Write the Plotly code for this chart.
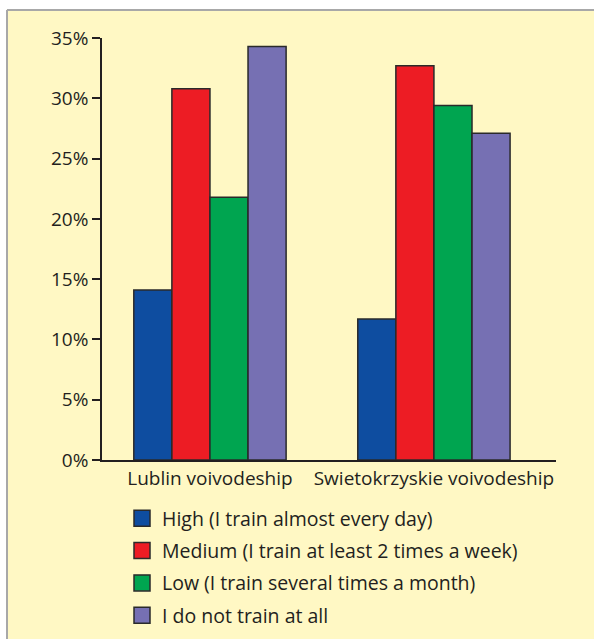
import plotly.graph_objects as go

categories = ["Lublin voivodeship", "Swietokrzyskie voivodeship"]
series_names = [
    "High (I train almost every day)",
    "Medium (I train at least 2 times a week)",
    "Low (I train several times a month)",
    "I do not train at all",
]
high = [14.1, 11.7]
medium = [30.8, 32.7]
low = [21.8, 29.4]
none_ = [34.3, 27.1]
y_ticks = [0, 5, 10, 15, 20, 25, 30, 35]
y_tick_labels = ["0%", "5%", "10%", "15%", "20%", "25%", "30%", "35%"]

colors = ["#0E4DA0", "#ED1C24", "#00A550", "#7670B3"]
values = [high, medium, low, none_]

W, H = 594, 639
ML, MR, MT, MB = 102, 38, 38, 179
BG = "#FFF8C4"
TXT = "#231F20"
OUTLINE = "#2a2a2a"
FONT = "Open Sans, Liberation Sans, Arial, sans-serif"

fig = go.Figure()
for name, vals, col in zip(series_names, values, colors):
    fig.add_trace(go.Bar(
        x=[0, 1], y=vals, name=name, showlegend=False,
        marker=dict(color=col, line=dict(color=OUTLINE, width=1.5)),
    ))
# legend entries (square swatches)
for name, col in zip(series_names, colors):
    fig.add_trace(go.Scatter(
        x=[None], y=[None], mode="markers", name=name, legendgroup=name,
        marker=dict(symbol="square", size=16, color=col, line=dict(color=OUTLINE, width=1.5)),
    ))

pw = W - ML - MR
ph = H - MT - MB
def px_x(p):
    return (p - ML) / pw
def px_y(p):
    return (H - MB - p) / ph

# page frame: white margin strip with grey border at top and left
fig.add_shape(type="rect", xref="paper", yref="paper", x0=px_x(-5), x1=px_x(W + 5),
              y0=px_y(9.5), y1=px_y(-5), fillcolor="white", line_width=0, layer="below")
fig.add_shape(type="rect", xref="paper", yref="paper", x0=px_x(-5), x1=px_x(6.5),
              y0=px_y(H + 5), y1=px_y(-5), fillcolor="white", line_width=0, layer="below")
fig.add_shape(type="line", xref="paper", yref="paper", x0=px_x(7), x1=px_x(W + 5),
              y0=px_y(10), y1=px_y(10), line=dict(color="#A8A8A8", width=2), layer="below")
fig.add_shape(type="line", xref="paper", yref="paper", x0=px_x(7), x1=px_x(7),
              y0=px_y(10), y1=px_y(H + 5), line=dict(color="#A8A8A8", width=2), layer="below")

fig.update_layout(
    width=W, height=H,
    margin=dict(l=ML, r=MR, t=MT, b=MB, pad=0, autoexpand=False),
    paper_bgcolor=BG, plot_bgcolor=BG,
    barmode="group", bargap=0.32, bargroupgap=0,
    font=dict(family=FONT, color=TXT, size=19),
    showlegend=True,
    legend=dict(
        x=px_x(122), y=px_y(499), xanchor="left", yanchor="top",
        bgcolor="rgba(0,0,0,0)", font=dict(size=19.5, color=TXT, family=FONT),
        tracegroupgap=4, itemwidth=30, itemsizing="trace",
    ),
    xaxis=dict(
        tickmode="array", tickvals=[0, 1], ticktext=categories,
        range=[-0.482, 1.545], showgrid=False, zeroline=False,
        showline=True, linecolor=TXT, linewidth=1.5, ticks="",
        tickfont=dict(size=19, color=TXT, family=FONT),
    ),
    yaxis=dict(
        range=[0, 35], tickmode="array", tickvals=y_ticks, ticktext=y_tick_labels,
        showgrid=False, zeroline=False, showline=True, linecolor=TXT,
        linewidth=1.5, ticks="outside", ticklen=8, tickcolor=TXT, tickwidth=1.5,
        tickfont=dict(size=19, color=TXT, family=FONT),
    ),
)

fig.write_html(
    "out.html",
    config={"displayModeBar": False},
    post_script=(
        "document.body.style.margin='0';"
        "document.body.style.overflow='hidden';"
        "document.body.style.background='" + BG + "';"
        "document.documentElement.style.background='" + BG + "';"
    ),
)
